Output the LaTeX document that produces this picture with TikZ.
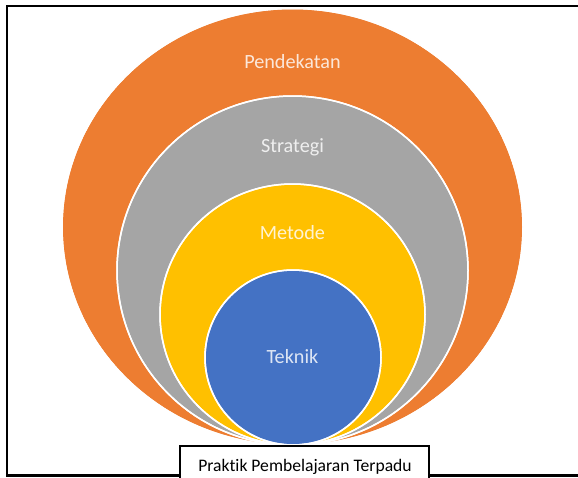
\documentclass[tikz,border=0pt]{standalone}
\usepackage{fontspec}
\setmainfont{Carlito}[Ligatures={NoCommon}]
\definecolor{cOrange}{HTML}{ED7D31}
\definecolor{cGray}{HTML}{A5A5A5}
\definecolor{cYellow}{HTML}{FFC000}
\definecolor{cBlue}{HTML}{4472C4}
\begin{document}
\begin{tikzpicture}[x=1pt,y=-1pt,
  ring/.style={draw=white,line width=1.5pt},
  lbl/.style={text=white,text opacity=0.82,font=\fontsize{20.2}{22}\selectfont},
  frame/.style={line width=2.6pt,black}]
\useasboundingbox (0,0) rectangle (578,477);
% circles
\fill[ring,fill=cOrange] (292.5,227) ellipse [x radius=230.5,y radius=218.5];
\fill[ring,fill=cGray] (292.5,270.5) ellipse [x radius=175.5,y radius=174.5];
\fill[ring,fill=cYellow] (292.5,314.5) ellipse [x radius=132.5,y radius=130.5];
\fill[ring,fill=cBlue] (293,357.5) ellipse [x radius=88,y radius=87.5];
\draw[ring] (292.5,227) ellipse [x radius=230.5,y radius=218.5];
\draw[ring] (292.5,270.5) ellipse [x radius=175.5,y radius=174.5];
\draw[ring] (292.5,314.5) ellipse [x radius=132.5,y radius=130.5];
\draw[ring] (293,357.5) ellipse [x radius=88,y radius=87.5];
% labels
\node[lbl] (pend) at (292.5,62) {Pendekatan};
\node[lbl] (strat) at (292.5,147) {Strategi};
\node[lbl] (met) at (292.5,233) {Metode};
\node[lbl] (tek) at (292.5,357) {Teknik};
% frame
\coordinate (tl) at (7,6);
\coordinate (tr) at (578,6);
\coordinate (bl) at (7,475.5);
\coordinate (bm1) at (180,475.5);
\coordinate (bm2) at (429,475.5);
\coordinate (br) at (578,475.5);
\draw[frame,line cap=rect] (tr) -- (tl) -- (bl) -- (bm1);
\draw[frame] (bm2) -- (br);
% bottom box
\draw[fill=white,draw=black,line width=1.2pt] (180,480) -- (180,446) -- (429,446) -- (429,480);
\node[font=\fontsize{17.6}{19}\selectfont,anchor=base] (prak) at (305,471) {Praktik Pembelajaran Terpadu};
\end{tikzpicture}
\end{document}
